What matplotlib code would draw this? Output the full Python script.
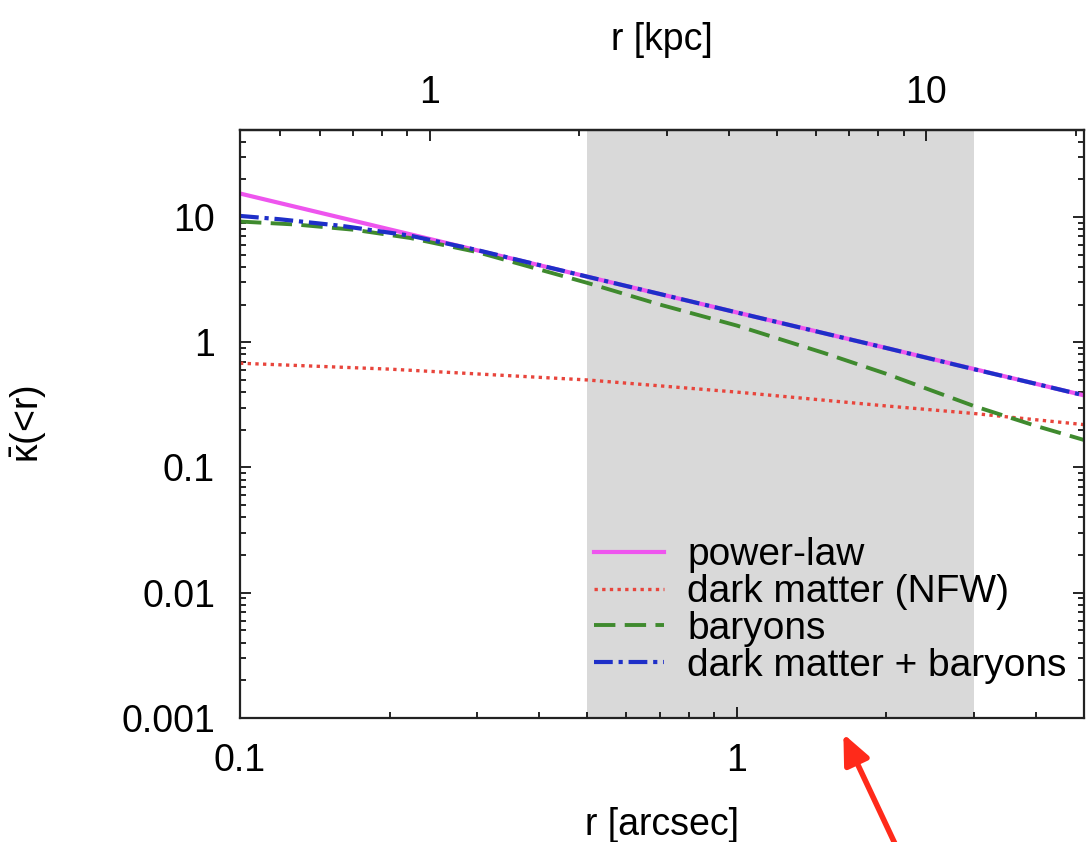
import numpy as np
import matplotlib
matplotlib.use("Agg")
import matplotlib.pyplot as plt
from matplotlib.ticker import FuncFormatter, LogLocator, NullFormatter, FixedLocator

plt.rcParams["font.family"] = ["Liberation Sans", "DejaVu Sans"]
plt.rcParams["mathtext.fontset"] = "custom"
plt.rcParams["mathtext.rm"] = "Liberation Sans"
plt.rcParams["mathtext.it"] = "Liberation Sans"

# values (r in arcsec, mean convergence inside r)
r_pl = [0.1, 0.2, 0.5, 1.0, 2.0, 5.0]
kappa_pl = [15.4, 7.97, 3.34, 1.73, 0.90, 0.377]

r_nfw = [0.1, 0.2, 0.5, 1.0, 2.0, 3.0, 5.0]
kappa_nfw = [0.68, 0.61, 0.50, 0.40, 0.31, 0.27, 0.22]

r_bar = [0.1, 0.13, 0.17, 0.22, 0.3, 0.5, 0.7, 1.0, 1.5, 2.0, 3.0, 4.0, 5.0]
kappa_bar = [9.2, 8.7, 7.9, 6.8, 5.25, 2.98, 2.0, 1.36, 0.82, 0.56, 0.31, 0.215, 0.166]

r_tot = [0.1, 0.12, 0.16, 0.22, 0.3, 0.5, 0.7, 1.0, 1.5, 2.0, 3.0, 4.0, 5.0]
kappa_tot = [10.2, 9.6, 8.5, 7.1, 5.45, 3.34, 2.43, 1.73, 1.18, 0.90, 0.61, 0.466, 0.377]

shade_span = (0.5, 3.0)      # arcsec
kpc_per_arcsec = 4.15
kpc_ticks = [1, 10]

fig = plt.figure(figsize=(10.86, 8.42), dpi=100)
ax = fig.add_axes([0.221, 0.1473, 0.777, 0.6983])

ax.axvspan(*shade_span, color="#d9d9d9", lw=0, zorder=0)

ax.plot(r_pl, kappa_pl, color="#ee55ee", lw=3.0, ls="-", label="power-law")
ax.plot(r_nfw, kappa_nfw, color="#e8453c", lw=2.4, ls=(0, (1, 1.3)),
        label="dark matter (NFW)")
ax.plot(r_bar, kappa_bar, color="#3f8a2e", lw=2.8, ls=(0, (5.5, 2.4)),
        label="baryons")
ax.plot(r_tot, kappa_tot, color="#1e2fc8", lw=3.0, ls=(0, (4.5, 1.4, 1, 1.4)),
        label="dark matter + baryons")

ax.set_xscale("log")
ax.set_yscale("log")
ax.set_xlim(0.1, 5.0)
ax.set_ylim(0.001, 49.5)

fmt = FuncFormatter(lambda v, p: f"{v:g}")
ax.xaxis.set_major_formatter(fmt)
ax.yaxis.set_major_formatter(fmt)
ax.xaxis.set_minor_formatter(NullFormatter())
ax.yaxis.set_minor_formatter(NullFormatter())
ax.yaxis.set_major_locator(LogLocator(base=10, numticks=10))
ax.yaxis.set_minor_locator(LogLocator(base=10, subs=np.arange(2, 10), numticks=10))

ax.tick_params(which="both", direction="in", top=False, right=True,
               labelsize=27, width=1.2)
ax.tick_params(which="major", length=8)
ax.tick_params(which="minor", length=4)
ax.tick_params(axis="x", pad=18)
ax.tick_params(axis="y", pad=18)
for s in ax.spines.values():
    s.set_linewidth(1.6)
    s.set_color("#222222")

secax = ax.secondary_xaxis("top", functions=(lambda r: r * kpc_per_arcsec,
                                              lambda k: k / kpc_per_arcsec))
secax.xaxis.set_major_locator(FixedLocator(kpc_ticks))
secax.xaxis.set_major_formatter(fmt)
secax.xaxis.set_minor_formatter(NullFormatter())
secax.tick_params(which="both", direction="in", labelsize=27, width=1.2, pad=14)
secax.tick_params(which="major", length=8)
secax.tick_params(which="minor", length=4)
secax.spines["top"].set_linewidth(1.6)
secax.set_xlabel("r [kpc]", fontsize=27, labelpad=18)

ax.set_xlabel("r [arcsec]", fontsize=27, labelpad=20)
ax.set_ylabel(r"$\bar{\mathrm{\kappa}}$(<r)", fontsize=27, labelpad=52)

leg = ax.legend(loc="lower right", bbox_to_anchor=(1.012, 0.012), frameon=False,
                fontsize=28, handlelength=1.8, handletextpad=0.6,
                labelspacing=0.02, borderpad=0.2)

# red arrow pointing at the bottom axis
ax.annotate("", xy=(1.64, -0.027), xycoords=ax.get_xaxis_transform(),
            xytext=(0.827, -0.01), textcoords="figure fraction",
            arrowprops=dict(arrowstyle="-|>,head_length=1.8,head_width=0.8",
                            color="#ff2a1a", lw=4, shrinkA=0, shrinkB=0),
            annotation_clip=False)

fig.savefig("out.png", dpi=100)
